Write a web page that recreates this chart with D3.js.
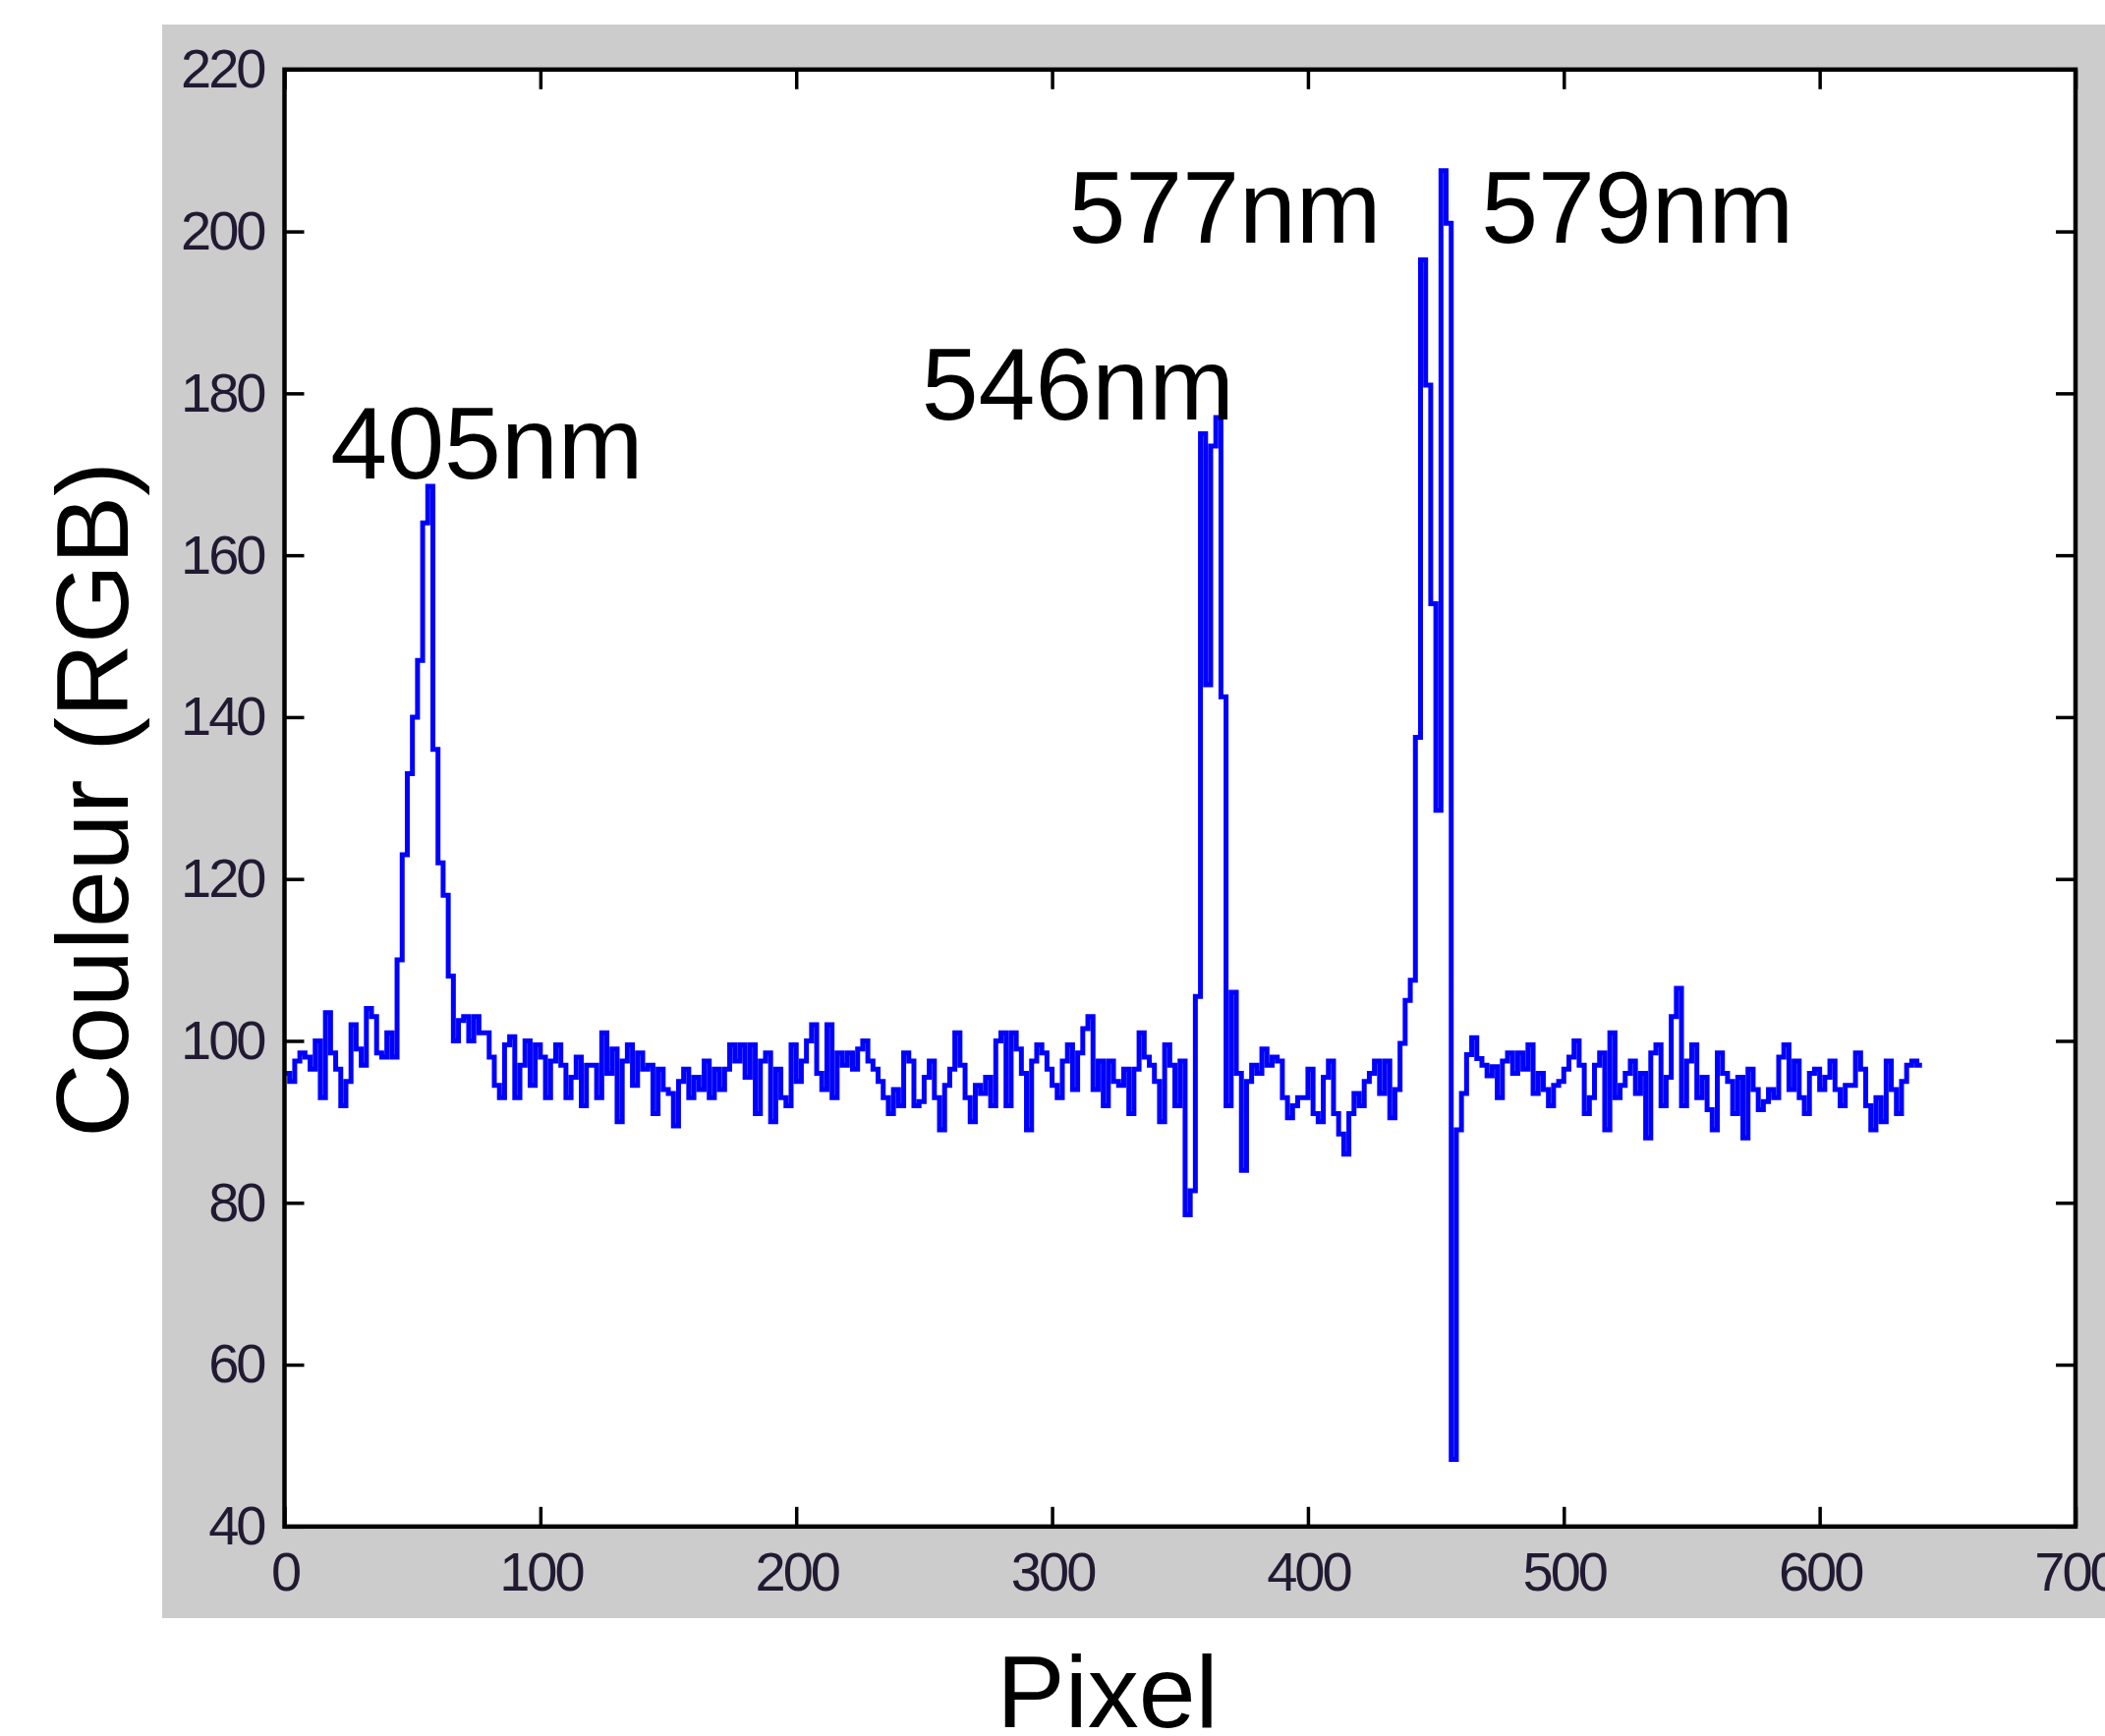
<!DOCTYPE html>
<html>
<head>
<meta charset="utf-8">
<script src="https://cdn.jsdelivr.net/npm/d3@7"></script>
<style>
  body { margin: 0; background: #fff; }
  svg { display: block; }
</style>
</head>
<body>
<svg width="2142" height="1767"></svg>
<script>
const xTicks = [0, 100, 200, 300, 400, 500, 600, 700];
const yTicks = [40, 60, 80, 100, 120, 140, 160, 180, 200, 220];

// one reading every 2 pixels, from pixel 0 to 638
const step = 2;
const couleur = [
  96, 95, 97.5, 98.5, 98, 96.5, 100, 93, 103.5, 98.5, 96.5, 92, 95, 102, 99, 97, 104, 103, 98.5, 98,
  101, 98, 110, 123, 133, 140, 147, 164, 168.5, 136, 122, 118, 108, 100, 102.5, 103, 100, 103, 101, 101,
  98, 94.5, 93, 99.5, 100.5, 93, 97, 100, 94.5, 99.5, 98, 93, 97.5, 99.5, 97, 93, 95.5, 98, 92, 97,
  97, 93, 101, 96, 99, 90, 97.5, 99.5, 94.5, 98.5, 96.5, 97, 91, 96.5, 94, 93.5, 89.5, 95, 96.5, 93,
  95.5, 94, 97.5, 93, 96.5, 94, 96.5, 99.5, 97.5, 99.5, 95.5, 99.5, 91, 97.5, 98.5, 90, 96.5, 93, 92, 99.5,
  95, 97.5, 100, 102, 96, 94, 102, 93, 98.5, 97, 98.5, 96.5, 99, 100, 97.5, 96.5, 95, 93, 91, 94,
  92, 98.5, 97.5, 92, 92.5, 95.5, 97.5, 93, 89, 94.5, 96.5, 101, 97, 93, 90, 94.5, 93.5, 95.5, 92, 100,
  101, 92, 101, 99, 96, 89, 97.5, 99.5, 98.5, 96.5, 94.5, 93, 97.5, 99.5, 94, 98.5, 101.5, 103, 94, 97.5,
  92, 97.5, 95, 94.5, 96.5, 91, 96.5, 101, 98, 97, 95, 90, 99.5, 97, 92, 97.5, 78.5, 81.5, 105.5, 175,
  144, 173.5, 177, 142.5, 92, 106, 96, 84, 95, 97, 96, 99, 97, 98, 97.5, 93, 90.5, 92, 93, 93,
  96.5, 91, 90, 95.5, 97.5, 91, 88.5, 86, 91, 93.5, 92, 95, 96, 97.5, 93.5, 97.5, 90.5, 94, 99.7, 105,
  107.5, 137.5, 196.5, 181, 154, 128.5, 207.5, 201, 48.3, 89, 93.5, 98.3, 100.4, 97.8, 97, 95.7, 96.8, 93, 97.5, 98.5,
  96, 98.5, 96.5, 99.5, 93.5, 96, 94, 92, 94.5, 95, 96.5, 98, 100, 97, 91, 93, 97, 98.5, 89, 101,
  93, 94.5, 96, 97.5, 93.5, 96, 88, 98.5, 99.5, 92, 95.5, 103, 106.5, 92, 97.5, 99.5, 93, 95.5, 91.5, 89,
  98.5, 96, 95, 91, 95.5, 88, 96.5, 94, 91.5, 92.5, 94, 93, 98, 99.5, 94, 97.5, 93, 91, 96, 96.5,
  94, 95.5, 97.5, 94, 92, 94.5, 94.5, 98.5, 96.5, 92, 89, 93, 90, 97.5, 94, 91, 95, 97, 97.5, 97
];

const peakNames = ["405nm", "546nm", "577nm", "579nm"];
const peakPixel = [18, 249, 306.5, 467.7];
const peakLevel = [169.5, 176.8, 198.6, 198.6];

let svg = d3.select("svg");

// gray figure background
svg.append("rect")
  .attr("x", 165).attr("y", 25)
  .attr("width", 1977).attr("height", 1622)
  .attr("fill", "#cccccc");

let x = d3.scaleLinear().domain([0, 700]).range([289.5, 2112]);
let y = d3.scaleLinear().domain([40, 220]).range([1553.8, 70.8]);

svg.append("rect")
  .attr("x", x(0)).attr("y", y(220))
  .attr("width", x(700) - x(0)).attr("height", y(40) - y(220))
  .attr("fill", "#fff");

let points = couleur.map(function(v, i) { return [i * step, v]; });
points.push([couleur.length * step, couleur[couleur.length - 1]]);

let line = d3.line()
  .x(function(d) { return x(d[0]); })
  .y(function(d) { return y(d[1]); })
  .curve(d3.curveStepAfter);

svg.append("path")
  .datum(points)
  .attr("d", line)
  .attr("fill", "none")
  .attr("stroke", "#0000ff")
  .attr("stroke-width", 5)
  .attr("stroke-linejoin", "miter");

function styleAxis(g) {
  g.select(".domain").remove();
  g.selectAll(".tick line").attr("stroke", "#000").attr("stroke-width", 3.5);
  g.selectAll(".tick text")
    .attr("fill", "#221a33")
    .style("font-family", "'Liberation Sans', Arial, sans-serif")
    .style("font-size", "56px")
    .style("letter-spacing", "-3px");
}

svg.append("g")
  .attr("transform", "translate(0," + y(40) + ")")
  .call(d3.axisBottom(x).tickValues(xTicks).tickSizeInner(-20).tickSizeOuter(0).tickPadding(25))
  .call(styleAxis);

svg.append("g")
  .attr("transform", "translate(0," + y(220) + ")")
  .call(d3.axisTop(x).tickValues(xTicks).tickSizeInner(-20).tickSizeOuter(0).tickFormat(function() { return ""; }))
  .call(styleAxis);

svg.append("g")
  .attr("transform", "translate(" + x(0) + ",0)")
  .call(d3.axisLeft(y).tickValues(yTicks).tickSizeInner(-20).tickSizeOuter(0).tickPadding(21))
  .call(styleAxis);

svg.append("g")
  .attr("transform", "translate(" + x(700) + ",0)")
  .call(d3.axisRight(y).tickValues(yTicks).tickSizeInner(-20).tickSizeOuter(0).tickFormat(function() { return ""; }))
  .call(styleAxis);

// axes box
svg.append("rect")
  .attr("x", x(0)).attr("y", y(220))
  .attr("width", x(700) - x(0)).attr("height", y(40) - y(220))
  .attr("fill", "none")
  .attr("stroke", "#000")
  .attr("stroke-width", 4.5);

svg.selectAll(".peak")
  .data(peakNames)
  .enter().append("text")
  .attr("class", "peak")
  .attr("x", function(d, i) { return x(peakPixel[i]); })
  .attr("y", function(d, i) { return y(peakLevel[i]); })
  .style("font-family", "'Liberation Sans', Arial, sans-serif")
  .style("font-size", "104px")
  .attr("fill", "#000")
  .text(function(d) { return d; });

svg.append("text")
  .attr("x", 1127)
  .attr("y", 1758)
  .attr("text-anchor", "middle")
  .style("font-family", "'Liberation Sans', Arial, sans-serif")
  .style("font-size", "104px")
  .text("Pixel");

svg.append("text")
  .attr("transform", "translate(130,814) rotate(-90)")
  .attr("text-anchor", "middle")
  .style("font-family", "'Liberation Sans', Arial, sans-serif")
  .style("font-size", "104px")
  .text("Couleur (RGB)");
</script>
</body>
</html>
